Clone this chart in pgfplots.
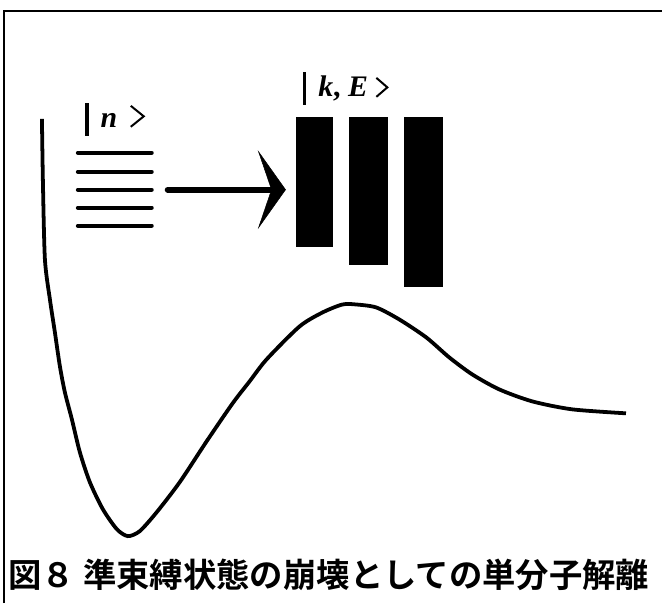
\documentclass[border=0pt]{standalone}
\usepackage{fontspec}
\setmainfont{Liberation Serif}
\newfontfamily\cjk{Noto Sans CJK JP}[BoldFont={* Bold}]
\usepackage{pgfplots}
\pgfplotsset{compat=1.18}
\newcommand{\kbar}{\rule[-8bp]{3.6bp}{33bp}}
\begin{document}
\begin{tikzpicture}
\begin{axis}[
  scale only axis, width=663bp, height=604bp,
  xmin=0, xmax=663, ymin=0, ymax=604, y dir=reverse,
  hide axis, clip=false,
]
\path (axis cs:0,0) rectangle (axis cs:663,604);
% frame (top and left edges)
\addplot[black, line width=2.2pt] coordinates {(4,604) (4,11) (663,11)};
% potential curve
\addplot[black, line width=3.8pt, smooth, tension=0.45] coordinates {
 (42,119) (43,183) (45,260) (50,300) (55,333) (60,367) (65,393) (72,420)
 (80,453) (90,483) (103,510) (117,530) (128,537) (140,532) (157,513)
 (180,483) (207,442) (233,404) (250,382) (267,360) (300,327) (323,313)
 (343,305) (357,305) (377,308) (400,320) (427,338) (450,358) (473,375)
 (500,390) (533,402) (573,410) (627,414)};
% bound levels |n>
\addplot[black, line width=4pt, line cap=round] coordinates {(78,153) (152,153)};
\addplot[black, line width=4pt, line cap=round] coordinates {(78,172) (152,172)};
\addplot[black, line width=4pt, line cap=round] coordinates {(78,190) (152,190)};
\addplot[black, line width=4pt, line cap=round] coordinates {(78,208) (152,208)};
\addplot[black, line width=4pt, line cap=round] coordinates {(78,226) (152,226)};
% arrow
\addplot[black, line width=6pt, line cap=round] coordinates {(168,190) (272,190)};
\addplot[black, fill=black, line width=0.5pt] coordinates {(259,152) (286,190) (259,228) (272,190)} --cycle;
% continuum bands |k,E>
\addplot[black, fill=black, line width=0.5pt] coordinates {(297,117) (333,117) (333,247) (297,247)} --cycle;
\addplot[black, fill=black, line width=0.5pt] coordinates {(350,117) (388,117) (388,265) (350,265)} --cycle;
\addplot[black, fill=black, line width=0.5pt] coordinates {(405,117) (443,117) (443,287) (405,287)} --cycle;
% ket closing angles
\addplot[black, line width=2pt, line join=miter] coordinates {(131,106) (144,116.5) (131,127)};
\addplot[black, line width=2pt, line join=miter] coordinates {(377,78) (388,87.5) (377,97)};
% labels
\node[anchor=base west, inner sep=0pt, font=\fontsize{30}{32}\selectfont\bfseries] at (axis cs:85,128) {\kbar\hspace{12bp}\textit{n}};
\node[anchor=base west, inner sep=0pt, font=\fontsize{30}{32}\selectfont\bfseries] at (axis cs:303,97) {\kbar\hspace{12bp}\textit{k}, \textit{E}};
% caption
\node[anchor=west, inner sep=0pt] at (axis cs:8,576) {\resizebox{642bp}{!}{\cjk\bfseries\fontsize{32}{34}\selectfont 図８\hspace{0.25em}準束縛状態の崩壊としての単分子解離}};
\end{axis}
\end{tikzpicture}
\end{document}
